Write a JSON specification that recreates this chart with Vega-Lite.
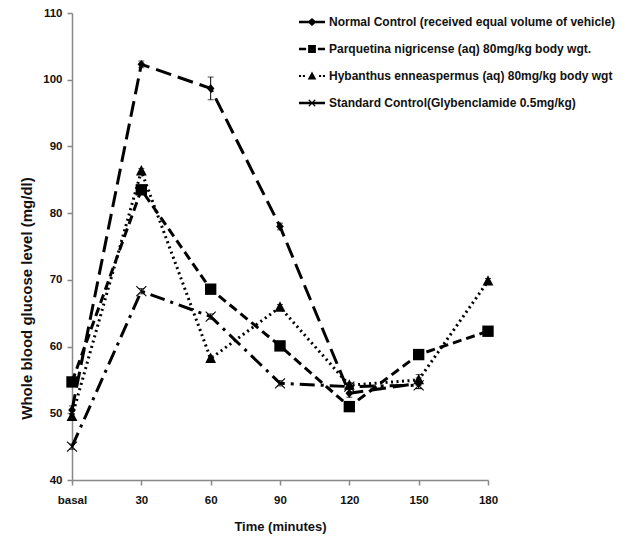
{
  "$schema": "https://vega.github.io/schema/vega-lite/v6.json",
  "width": 416,
  "height": 467,
  "autosize": {"type": "none"},
  "padding": {"left": 72, "top": 13, "right": 141, "bottom": 60},
  "background": "white",
  "config": {
    "view": {"stroke": null},
    "font": "Liberation Sans",
    "axis": {
      "domainColor": "#888888",
      "domainWidth": 1.5,
      "tickColor": "#888888",
      "tickWidth": 1.5,
      "tickSize": 5,
      "grid": false,
      "labelFont": "Liberation Sans",
      "labelFontWeight": "bold",
      "labelFontSize": 11.5,
      "labelColor": "#111111",
      "titleFont": "Liberation Sans",
      "titleFontWeight": "bold",
      "titleColor": "#111111"
    }
  },
  "data": {
    "values": [
      {"series": "Normal Control (received equal volume of vehicle)", "time": "basal", "value": 50.5, "err": 0.6},
      {"series": "Normal Control (received equal volume of vehicle)", "time": "30", "value": 102.3, "err": 0.5},
      {"series": "Normal Control (received equal volume of vehicle)", "time": "60", "value": 98.7, "err": 1.7},
      {"series": "Normal Control (received equal volume of vehicle)", "time": "90", "value": 78, "err": 0.5},
      {"series": "Normal Control (received equal volume of vehicle)", "time": "120", "value": 53, "err": 0.6},
      {"series": "Normal Control (received equal volume of vehicle)", "time": "150", "value": 54.5, "err": 0.8},
      {"series": "Parquetina nigricense  (aq) 80mg/kg body wgt.", "time": "basal", "value": 54.7, "err": 0.4},
      {"series": "Parquetina nigricense  (aq) 80mg/kg body wgt.", "time": "30", "value": 83.5, "err": 0.5},
      {"series": "Parquetina nigricense  (aq) 80mg/kg body wgt.", "time": "60", "value": 68.6, "err": 0.4},
      {"series": "Parquetina nigricense  (aq) 80mg/kg body wgt.", "time": "90", "value": 60.1, "err": 0.4},
      {"series": "Parquetina nigricense  (aq) 80mg/kg body wgt.", "time": "120", "value": 51, "err": 0.4},
      {"series": "Parquetina nigricense  (aq) 80mg/kg body wgt.", "time": "150", "value": 58.8, "err": 0.4},
      {"series": "Parquetina nigricense  (aq) 80mg/kg body wgt.", "time": "180", "value": 62.3, "err": 0.4},
      {"series": "Hybanthus enneaspermus (aq) 80mg/kg body wgt", "time": "basal", "value": 49.5, "err": 0.4},
      {"series": "Hybanthus enneaspermus (aq) 80mg/kg body wgt", "time": "30", "value": 86.3, "err": 0.4},
      {"series": "Hybanthus enneaspermus (aq) 80mg/kg body wgt", "time": "60", "value": 58.2, "err": 0.4},
      {"series": "Hybanthus enneaspermus (aq) 80mg/kg body wgt", "time": "90", "value": 65.9, "err": 0.4},
      {"series": "Hybanthus enneaspermus (aq) 80mg/kg body wgt", "time": "120", "value": 54.2, "err": 0.4},
      {"series": "Hybanthus enneaspermus (aq) 80mg/kg body wgt", "time": "150", "value": 55, "err": 0.8},
      {"series": "Hybanthus enneaspermus (aq) 80mg/kg body wgt", "time": "180", "value": 69.8, "err": 0.4},
      {"series": "Standard Control(Glybenclamide 0.5mg/kg)", "time": "basal", "value": 45, "err": 0.4},
      {"series": "Standard Control(Glybenclamide 0.5mg/kg)", "time": "30", "value": 68.3, "err": 0.4},
      {"series": "Standard Control(Glybenclamide 0.5mg/kg)", "time": "60", "value": 64.5, "err": 0.4},
      {"series": "Standard Control(Glybenclamide 0.5mg/kg)", "time": "90", "value": 54.5, "err": 0.4},
      {"series": "Standard Control(Glybenclamide 0.5mg/kg)", "time": "120", "value": 54, "err": 0.4},
      {"series": "Standard Control(Glybenclamide 0.5mg/kg)", "time": "150", "value": 54.2, "err": 0.5}
    ]
  },
  "encoding": {
    "x": {
      "field": "time",
      "type": "ordinal",
      "scale": {"type": "point", "padding": 0, "domain": ["basal", "30", "60", "90", "120", "150", "180"]},
      "axis": {"title": "Time (minutes)", "labelAngle": 0, "labelPadding": 9, "titleFontSize": 13, "titlePadding": 15}
    },
    "y": {
      "field": "value",
      "type": "quantitative",
      "scale": {"domain": [40, 110], "nice": false, "zero": false},
      "axis": {
        "title": "Whole blood glucose level (mg/dl)",
        "values": [40, 50, 60, 70, 80, 90, 100, 110],
        "labelPadding": 5,
        "titleFontSize": 15,
        "titleX": -38,
        "titleY": 285
      }
    }
  },
  "layer": [
    {
      "mark": {"type": "line", "color": "black", "strokeWidth": 3},
      "encoding": {
        "strokeDash": {
          "field": "series",
          "type": "nominal",
          "scale": {
            "domain": ["Normal Control (received equal volume of vehicle)", "Parquetina nigricense  (aq) 80mg/kg body wgt.", "Hybanthus enneaspermus (aq) 80mg/kg body wgt", "Standard Control(Glybenclamide 0.5mg/kg)"],
            "range": [[16, 7], [9, 5], [2, 3.5], [15, 6, 3, 6]]
          },
          "legend": null
        }
      }
    },
    {
      "mark": {"type": "errorbar", "color": "black", "ticks": {"size": 6, "color": "black"}},
      "encoding": {
        "y": {"field": "value", "type": "quantitative"},
        "yError": {"field": "err"}
      }
    },
    {
      "mark": {"type": "point", "filled": true, "color": "black", "opacity": 1, "size": 160},
      "encoding": {
        "shape": {
          "field": "series",
          "type": "nominal",
          "scale": {
            "domain": ["Normal Control (received equal volume of vehicle)", "Parquetina nigricense  (aq) 80mg/kg body wgt.", "Hybanthus enneaspermus (aq) 80mg/kg body wgt", "Standard Control(Glybenclamide 0.5mg/kg)"],
            "range": [
              "M0,-0.7L0.6,0L0,0.7L-0.6,0Z",
              "M-0.9,-0.9H0.9V0.9H-0.9Z",
              "M0,-0.95L0.85,0.7L-0.85,0.7Z",
              "M-0.85,-0.73L-0.73,-0.85L0.85,0.73L0.73,0.85Z M0.73,-0.85L0.85,-0.73L-0.73,0.85L-0.85,0.73Z"
            ]
          },
          "legend": null
        }
      }
    },
    {
      "mark": {"type": "point", "filled": true, "color": "black", "opacity": 0},
      "encoding": {
        "shape": {
          "field": "series",
          "type": "nominal",
          "scale": {
            "domain": ["Normal Control (received equal volume of vehicle)", "Parquetina nigricense  (aq) 80mg/kg body wgt.", "Hybanthus enneaspermus (aq) 80mg/kg body wgt", "Standard Control(Glybenclamide 0.5mg/kg)"],
            "range": [
              "M-1,-0.1H1V0.1H-1Z M0,-0.3L0.35,0L0,0.3L-0.35,0Z",
              "M-1,-0.1H-0.45V0.1H-1Z M-0.3,-0.3H0.3V0.3H-0.3Z M0.45,-0.1H1V0.1H0.45Z",
              "M-1,-0.08H-0.84V0.08H-1Z M-0.7,-0.08H-0.54V0.08H-0.7Z M0,-0.35L0.33,0.26L-0.33,0.26Z M0.54,-0.08H0.7V0.08H0.54Z M0.84,-0.08H1V0.08H0.84Z",
              "M-1,-0.1H1V0.1H-1Z M-0.28,-0.22L-0.22,-0.28L0.28,0.22L0.22,0.28Z M0.22,-0.28L0.28,-0.22L-0.22,0.28L-0.28,0.22Z"
            ]
          },
          "legend": {
            "title": null,
            "orient": "none",
            "legendX": 227,
            "legendY": -4,
            "symbolSize": 676,
            "symbolOpacity": 1,
            "symbolFillColor": "black",
            "symbolStrokeWidth": 0,
            "rowPadding": 8,
            "labelOffset": 4,
            "labelFont": "Liberation Sans",
            "labelFontWeight": "bold",
            "labelFontSize": 12,
            "labelColor": "#111111",
            "labelLimit": 400
          }
        }
      }
    }
  ],
  "resolve": {"scale": {"shape": "independent"}}
}
